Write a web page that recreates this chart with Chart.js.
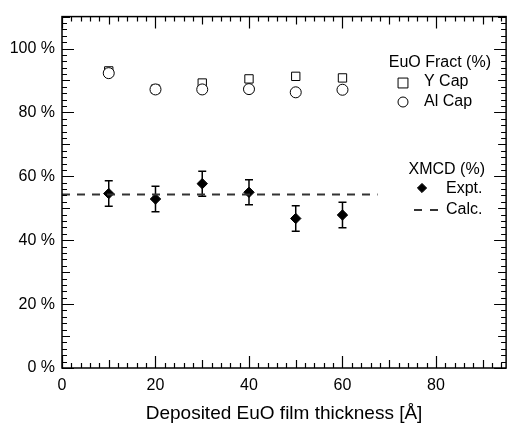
<!DOCTYPE html>
<html>
<head>
<meta charset="utf-8">
<script src="https://cdn.jsdelivr.net/npm/chart.js@4.4.1/dist/chart.umd.min.js"></script>
<style>
  html, body { margin: 0; padding: 0; background: #fff; }
  #wrap { width: 513px; height: 425px; }
</style>
</head>
<body>
<div id="wrap"><canvas id="chart" width="513" height="425"></canvas></div>
<script>
// thickness values (Angstrom)
const thickness = [10, 20, 30, 40, 50, 60];
// EuO fraction (%)
const yCap = [93, 87.3, 89.2, 90.5, 91.3, 90.8];
const alCap = [92.3, 87.2, 87.2, 87.3, 86.3, 87.1];
// XMCD (%)
const expt = [54.6, 52.9, 57.7, 55.0, 46.8, 47.9];
const exptErr = [4, 4, 3.9, 3.9, 4, 4];
const calcX = [0, 67.5];
const calcY = [54.3, 54.3];

const xTicks = [0, 20, 40, 60, 80];
const yTicks = [0, 20, 40, 60, 80, 100];

const FONT = "'Liberation Sans', Arial, sans-serif";

function pts(xs, ys) {
    return xs.map((x, i) => ({ x: x, y: ys[i] }));
}

// frame + inward ticks on all four sides
const framePlugin = {
    id: 'frame',
    afterDraw(chart) {
        const ctx = chart.ctx;
        const a = chart.chartArea;
        const xs = chart.scales.x, ys = chart.scales.y;
        ctx.save();
        ctx.strokeStyle = '#000';
        ctx.lineWidth = 1.5;
        ctx.strokeRect(a.left, a.top, a.right - a.left, a.bottom - a.top);
        ctx.beginPath();
        for (let v = xs.min; v <= xs.max + 0.001; v += 2) {
            const len = v % 20 === 0 ? 12 : (v % 10 === 0 ? 8 : 5);
            const px = Math.round(xs.getPixelForValue(v)) + 0.5;
            ctx.moveTo(px, a.bottom); ctx.lineTo(px, a.bottom - len);
            ctx.moveTo(px, a.top); ctx.lineTo(px, a.top + len);
        }
        for (let v = ys.min; v <= ys.max + 0.001; v += 2) {
            const len = v % 20 === 0 ? 12 : (v % 10 === 0 ? 8 : 5);
            const py = Math.round(ys.getPixelForValue(v)) + 0.5;
            ctx.moveTo(a.left, py); ctx.lineTo(a.left + len, py);
            ctx.moveTo(a.right, py); ctx.lineTo(a.right - len, py);
        }
        ctx.lineWidth = 1.2;
        ctx.stroke();
        ctx.restore();
    }
};

// vertical error bars for the XMCD points
const errorBarPlugin = {
    id: 'errorBars',
    beforeDatasetsDraw(chart) {
        const ctx = chart.ctx;
        const xs = chart.scales.x, ys = chart.scales.y;
        ctx.save();
        ctx.strokeStyle = '#000';
        ctx.lineWidth = 1.5;
        thickness.forEach((t, i) => {
            const px = xs.getPixelForValue(t);
            const top = ys.getPixelForValue(expt[i] + exptErr[i]);
            const bot = ys.getPixelForValue(expt[i] - exptErr[i]);
            ctx.beginPath();
            ctx.moveTo(px, top); ctx.lineTo(px, bot);
            ctx.moveTo(px - 4, top); ctx.lineTo(px + 4, top);
            ctx.moveTo(px - 4, bot); ctx.lineTo(px + 4, bot);
            ctx.stroke();
        });
        ctx.restore();
    }
};

// the two text legends inside the plot
const legendPlugin = {
    id: 'textLegend',
    afterDraw(chart) {
        const ctx = chart.ctx;
        ctx.save();
        ctx.fillStyle = '#000';
        ctx.font = '16px ' + FONT;
        ctx.textBaseline = 'middle';
        ctx.textAlign = 'right';
        ctx.fillText('EuO Fract (%)', 491, 63);
        ctx.fillText('XMCD (%)', 485, 170);
        ctx.textAlign = 'left';
        ctx.fillText('Y Cap', 424, 82);
        ctx.fillText('Al Cap', 424, 102);
        ctx.fillText('Expt.', 446, 189);
        ctx.fillText('Calc.', 446, 210);

        ctx.strokeStyle = '#000';
        ctx.lineWidth = 1;
        ctx.fillStyle = '#fff';
        Chart.helpers.drawPoint(ctx, { pointStyle: 'rect', radius: 7, borderWidth: 1 }, 403, 83);
        Chart.helpers.drawPoint(ctx, { pointStyle: 'circle', radius: 5, borderWidth: 1 }, 403, 102);
        ctx.fillStyle = '#000';
        Chart.helpers.drawPoint(ctx, { pointStyle: 'rectRot', radius: 4.6, borderWidth: 1 }, 422, 188);
        ctx.strokeStyle = '#333';
        ctx.lineWidth = 2;
        ctx.setLineDash([8, 8]);
        ctx.beginPath();
        ctx.moveTo(414, 210); ctx.lineTo(438, 210);
        ctx.stroke();
        ctx.restore();
    }
};

new Chart(document.getElementById('chart'), {
    type: 'scatter',
    data: {
        datasets: [
            {
                label: 'Calc.',
                type: 'line',
                data: pts(calcX, calcY),
                borderColor: '#333',
                borderWidth: 2,
                borderDash: [8, 7],
                pointRadius: 0,
                fill: false
            },
            {
                label: 'Al Cap',
                data: pts(thickness, alCap),
                pointStyle: 'circle',
                pointRadius: 5.5,
                borderColor: '#000',
                backgroundColor: '#fff',
                borderWidth: 1
            },
            {
                label: 'Y Cap',
                data: pts(thickness, yCap),
                pointStyle: 'rect',
                pointRadius: 5.9,
                borderColor: '#000',
                backgroundColor: 'rgba(255,255,255,0)',
                borderWidth: 1
            },
            {
                label: 'Expt.',
                data: pts(thickness, expt),
                pointStyle: 'rectRot',
                pointRadius: 5.2,
                borderColor: '#000',
                backgroundColor: '#000',
                borderWidth: 1
            }
        ]
    },
    options: {
        responsive: false,
        animation: false,
        layout: { padding: { top: 12, right: 4, left: 0, bottom: 0 } },
        plugins: {
            legend: { display: false },
            tooltip: { enabled: false }
        },
        scales: {
            x: {
                type: 'linear',
                min: 0,
                max: 95,
                afterBuildTicks: (s) => { s.ticks = xTicks.map(v => ({ value: v })); },
                afterFit: (s) => { s.height = 57; },
                grid: { display: false, drawTicks: false },
                border: { display: false },
                ticks: { color: '#000', font: { family: FONT, size: 16 }, padding: 8, maxRotation: 0 },
                title: {
                    display: true,
                    text: 'Deposited EuO film thickness [Å]',
                    color: '#000',
                    font: { family: FONT, size: 19 },
                    padding: { top: 4, bottom: 0 }
                }
            },
            y: {
                min: 0,
                max: 110,
                afterBuildTicks: (s) => { s.ticks = yTicks.map(v => ({ value: v })); },
                afterFit: (s) => { s.width = 62; },
                grid: { display: false, drawTicks: false },
                border: { display: false },
                ticks: {
                    color: '#000',
                    font: { family: FONT, size: 16 },
                    padding: 7,
                    callback: (v) => v + ' %'
                }
            }
        }
    },
    plugins: [framePlugin, errorBarPlugin, legendPlugin]
});
</script>
</body>
</html>
